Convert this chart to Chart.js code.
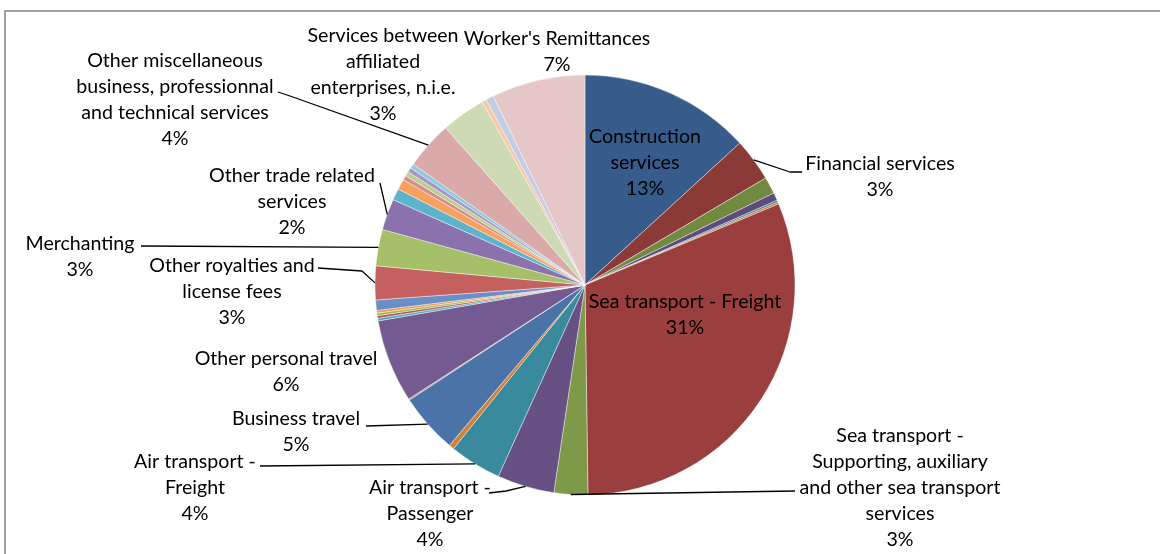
<!DOCTYPE html>
<html>
<head>
<meta charset="utf-8">
<script src="https://cdn.jsdelivr.net/npm/chart.js@4.4.1/dist/chart.umd.min.js"></script>
<style>
  html, body { margin: 0; padding: 0; background: #ffffff; }
  #wrap { width: 1160px; height: 554px; position: relative; }
</style>
</head>
<body>
<div id="wrap"><canvas id="chart" width="1160" height="554"></canvas></div>
<script>
// Services exports by category, share of total (%)
const categories = [
  "Construction services",
  "Financial services",
  "Insurance services",
  "Computer and information services",
  "Rail transport",
  "Sea transport - Passenger",
  "Sea transport - Freight",
  "Sea transport - Supporting, auxiliary and other sea transport services",
  "Air transport - Passenger",
  "Air transport - Freight",
  "Air transport - Supporting, auxiliary and other air transport services",
  "Business travel",
  "Other transport",
  "Other personal travel",
  "Education-related travel",
  "Health-related travel",
  "Postal and courier services",
  "Telecommunication services",
  "Franchises and similar rights",
  "Other royalties and license fees",
  "Merchanting",
  "Other trade related services",
  "Operational leasing services",
  "Legal, accounting, management consulting",
  "Advertising, market research",
  "Research and development",
  "Architectural, engineering",
  "Agricultural, mining",
  "Other miscellaneous business, professionnal and technical services",
  "Services between affiliated enterprises, n.i.e.",
  "Personal, cultural and recreational services",
  "Government services, n.i.e.",
  "Worker's Remittances"
];

const values = [
  13.2, 3.3, 1.3, 0.6, 0.15, 0.15,
  31.1, 2.6, 4.4, 4.0, 0.4, 4.6,
  0.1, 6.4, 0.2, 0.2, 0.2, 0.2,
  0.8, 2.6, 2.8, 2.4, 0.9, 0.8,
  0.35, 0.35, 0.35, 0.35,
  3.7, 3.4, 0.35, 0.6, 7.2
];

const sliceColors = [
  "#375C8C", "#8B3A38", "#718A3F", "#5E4A7B", "#36869A", "#C57A3B",
  "#9A3F3D", "#7E9A48", "#665084", "#3A8A9E", "#D0823B", "#4A74A8",
  "#B08A78", "#735A90", "#4BACC6", "#C0504D", "#9BBB59", "#F79646",
  "#6A8FC8", "#C4615E", "#A6C06A", "#8A73AC", "#5DB3CB", "#F7A060",
  "#D4908E", "#BACF8E", "#A897C2", "#8DCADB",
  "#D9AAA9", "#CDDAB4", "#F9C6A6", "#C3CDE3", "#E6C7C7"
];

// Label text (percent line is appended from the data), placement and leader path
const labelSpecs = [
  { cat: "Construction services", lines: ["Construction", "services"], x: 645, y: 137 },
  { cat: "Sea transport - Freight", lines: ["Sea transport - Freight"], x: 685, y: 302 },
  { cat: "Financial services", lines: ["Financial services"], x: 880, y: 164, leader: [[802, 172], [790, 172]] },
  { cat: "Sea transport - Supporting, auxiliary and other sea transport services",
    lines: ["Sea transport -", "Supporting, auxiliary", "and other sea transport", "services"], x: 900, y: 436, leader: [[795, 491]] },
  { cat: "Air transport - Passenger", lines: ["Air transport -", "Passenger"], x: 430, y: 488, leader: [[489, 493], [506, 491]] },
  { cat: "Air transport - Freight", lines: ["Air transport -", "Freight"], x: 195, y: 462, leader: [[260, 466]] },
  { cat: "Business travel", lines: ["Business travel"], x: 296, y: 419, leader: [[366, 426]] },
  { cat: "Other personal travel", lines: ["Other personal travel"], x: 286, y: 359 },
  { cat: "Other royalties and license fees", lines: ["Other royalties and", "license fees"], x: 232, y: 266, leader: [[318, 268], [362, 271]] },
  { cat: "Merchanting", lines: ["Merchanting"], x: 80, y: 244, leader: [[141, 246]] },
  { cat: "Other trade related services", lines: ["Other trade related", "services"], x: 292, y: 176, leader: [[380, 183]] },
  { cat: "Other miscellaneous business, professionnal and technical services",
    lines: ["Other miscellaneous", "business, professionnal", "and technical services"], x: 175, y: 61, leader: [[278, 92], [290, 96]] },
  { cat: "Services between affiliated enterprises, n.i.e.", lines: ["Services between", "affiliated", "enterprises, n.i.e."], x: 383, y: 36 },
  { cat: "Worker's Remittances", lines: ["Worker's Remittances"], x: 557, y: 39 }
];

const LINE_H = 25.8;
const FONT = "19.6px Lato, 'Open Sans', sans-serif";

const framePlugin = {
  id: "frame",
  beforeDraw(chart) {
    const c = chart.ctx;
    c.save();
    c.fillStyle = "#ffffff";
    c.fillRect(0, 0, chart.width, chart.height);
    c.strokeStyle = "#8a8a8a";
    c.lineWidth = 1.6;
    c.strokeRect(5, 11, chart.width + 20, chart.height + 20);
    c.restore();
  }
};

const labelPlugin = {
  id: "sliceLabels",
  afterDatasetsDraw(chart) {
    const c = chart.ctx;
    const meta = chart.getDatasetMeta(0);
    const total = values.reduce((a, b) => a + b, 0);
    c.save();
    // leader lines
    c.strokeStyle = "#000000";
    c.lineWidth = 1.3;
    c.lineJoin = "round";
    labelSpecs.forEach(spec => {
      if (!spec.leader) return;
      const i = categories.indexOf(spec.cat);
      const arc = meta.data[i];
      const p = arc.getProps(["x", "y", "startAngle", "endAngle", "outerRadius"], true);
      const mid = (p.startAngle + p.endAngle) / 2;
      const ax = p.x + Math.cos(mid) * p.outerRadius;
      const ay = p.y + Math.sin(mid) * p.outerRadius;
      c.beginPath();
      c.moveTo(spec.leader[0][0], spec.leader[0][1]);
      for (let k = 1; k < spec.leader.length; k++) c.lineTo(spec.leader[k][0], spec.leader[k][1]);
      c.lineTo(ax, ay);
      c.stroke();
    });
    // label text
    c.fillStyle = "#000000";
    c.font = FONT;
    c.textAlign = "center";
    c.textBaseline = "middle";
    labelSpecs.forEach(spec => {
      const i = categories.indexOf(spec.cat);
      const pct = Math.round(values[i] / total * 100) + "%";
      const lines = spec.lines.concat([pct]);
      lines.forEach((t, k) => c.fillText(t, spec.x, spec.y + k * LINE_H));
    });
    c.restore();
  }
};

new Chart(document.getElementById("chart"), {
  type: "pie",
  data: {
    labels: categories,
    datasets: [{
      data: values,
      backgroundColor: sliceColors,
      borderColor: "rgba(255,255,255,0.55)",
      borderWidth: 0.75
    }]
  },
  options: {
    responsive: false,
    animation: false,
    radius: 210,
    layout: { padding: { left: 10, right: 0, top: 75, bottom: 59 } },
    plugins: {
      legend: { display: false },
      tooltip: { enabled: false }
    }
  },
  plugins: [framePlugin, labelPlugin]
});
</script>
</body>
</html>
